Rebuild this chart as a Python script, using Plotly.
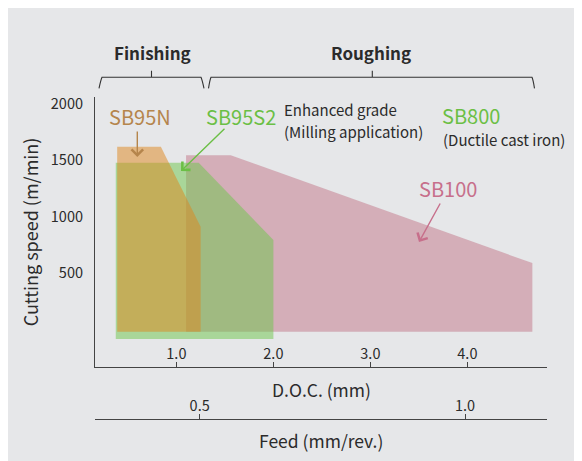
import plotly.graph_objects as go

# ---------------- data ----------------
grades = ["SB100", "SB95S2", "SB95N"]
sb100_doc = [1.10, 1.10, 1.56, 4.67, 4.67]
sb100_speed = [-25, 1545, 1545, 585, -25]
sb95s2_doc = [0.375, 0.375, 1.23, 2.0, 2.0]
sb95s2_speed = [-90, 1478, 1478, 790, -90]
sb95n_doc = [0.39, 0.39, 0.84, 1.25, 1.25]
sb95n_speed = [-25, 1620, 1620, 909, -25]

speed_ticks = [500, 1000, 1500, 2000]
doc_ticks = [1.0, 2.0, 3.0, 4.0]
doc_ticklabels = ["1.0", "2.0", "3.0", "4.0"]
feed_ticks = [0.5, 1.0]
feed_ticklabels = ["0.5", "1.0"]

# ---------------- layout geometry (page pixels) ----------------
OFF = 8                 # page body margin
WF, HF = 574, 453       # figure size
PL, PR, PT, PB = 95, 547, 97, 419  # plot box (paper) in page px
AXIS_Y = 367                        # DOC axis line


def fx(px):
    return (px - PL) / (PR - PL)


def fy(py):
    return (PB - py) / (PB - PT)


FONT = "Noto Sans CJK KR"
DARK = "#2b2b2b"
BROWN = "#b5854c"
GREEN = "#6bbf45"
PINK = "#c76f8b"

fig = go.Figure()
fig.add_trace(go.Scatter(x=sb100_doc, y=sb100_speed, fill="toself", mode="lines",
                         line=dict(width=0), fillcolor="rgba(194,117,135,0.5)",
                         name="SB100", hoverinfo="skip", showlegend=False))
fig.add_trace(go.Scatter(x=sb95s2_doc, y=sb95s2_speed, fill="toself", mode="lines",
                         line=dict(width=0), fillcolor="rgba(108,197,73,0.5)",
                         name="SB95S2", hoverinfo="skip", showlegend=False))
fig.add_trace(go.Scatter(x=sb95n_doc, y=sb95n_speed, fill="toself", mode="lines",
                         line=dict(width=0), fillcolor="rgba(222,133,27,0.5)",
                         name="SB95N", hoverinfo="skip", showlegend=False))
# invisible trace for the feed axis
fig.add_trace(go.Scatter(x=feed_ticks, y=[None, None], xaxis="x2", mode="lines",
                         showlegend=False, hoverinfo="skip"))

shapes = []


def bracket(x0, x1, xc, ytop=77.3, ybot=88.3, ytick=70.7, lflare=-2, rflare=2):
    p = (f"M {fx(x0 + lflare)},{fy(ybot)} Q {fx(x0)},{fy(ytop + 2)} {fx(x0 + 1)},{fy(ytop)} "
         f"L {fx(x1 - 1)},{fy(ytop)} Q {fx(x1)},{fy(ytop + 2)} {fx(x1 + rflare)},{fy(ybot)} "
         f"M {fx(xc)},{fy(ytop)} L {fx(xc)},{fy(ytick)}")
    return dict(type="path", xref="paper", yref="paper", path=p,
                line=dict(color="#333333", width=1.1))


shapes.append(bracket(101, 202, 151.5))
shapes.append(bracket(210, 533, 372.3, lflare=-1.5, rflare=1.5))

annotations = []


def txt(text, px, py, size, color=DARK, xanchor="center", weight=None):
    f = dict(family=FONT, size=size, color=color)
    if weight:
        f["weight"] = weight
    annotations.append(dict(text=text, x=fx(px), y=fy(py), xref="paper", yref="paper",
                            xanchor=xanchor, yanchor="middle", showarrow=False, font=f))


def arrow(x0, y0, x1, y1, color):
    annotations.append(dict(text="", x=fx(x1), y=fy(y1), xref="paper", yref="paper",
                            ax=x0 - x1, ay=y0 - y1, axref="pixel", ayref="pixel",
                            showarrow=True, arrowhead=4, arrowsize=1.6, arrowwidth=1.4,
                            arrowcolor=color))


txt("Finishing", 152, 52, 17, weight=600)
txt("Roughing", 371, 52, 17, weight=600)
txt("SB95N", 140, 116.5, 20, BROWN)
txt("SB95S2", 240.5, 116.5, 20, GREEN)
txt("Enhanced grade", 282, 109.5, 15, xanchor="left")
txt("(Milling application)", 282, 131, 15, xanchor="left")
txt("SB800", 470.5, 116, 20, GREEN)
txt("(Ductile cast iron)", 440.5, 139, 15, xanchor="left")
txt("SB100", 448, 188.5, 20, PINK)
txt("D.O.C. (mm)", 321, 389, 17.5)
txt("Feed (mm/rev.)", 321, 440, 17.5)

arrow(137.3, 130, 137.3, 157, BROWN)
arrow(226, 127.3, 181, 171, GREEN)
arrow(441, 202, 419, 242, PINK)

fig.update_layout(
    width=WF, height=HF,
    margin=dict(l=PL - OFF, r=OFF + WF - PR, t=PT - OFF, b=OFF + HF - PB, pad=0),
    paper_bgcolor="#e6e7e9", plot_bgcolor="rgba(0,0,0,0)",
    font=dict(family=FONT, color=DARK),
    showlegend=False,
    shapes=shapes, annotations=annotations,
    xaxis=dict(range=[0.161, 4.821], anchor="y", showgrid=False, zeroline=False,
               showline=True, linecolor="#444444", linewidth=1.2,
               ticks="inside", ticklen=5, tickcolor="#444444", tickwidth=1,
               tickvals=doc_ticks, ticktext=doc_ticklabels,
               ticklabelposition="inside", tickfont=dict(size=14.5, color=DARK)),
    xaxis2=dict(range=[0.3028, 1.1543], overlaying="x", anchor="free", position=0,
                side="bottom", showgrid=False, zeroline=False,
                showline=True, linecolor="#444444", linewidth=1.2,
                ticks="inside", ticklen=5, tickcolor="#444444", tickwidth=1,
                tickvals=feed_ticks, ticktext=feed_ticklabels,
                ticklabelposition="inside", tickfont=dict(size=14.5, color=DARK)),
    yaxis=dict(range=[-339, 2062], domain=[fy(AXIS_Y), 1], showgrid=False, zeroline=False,
               showline=True, linecolor="#444444", linewidth=1.2, ticks="",
               tickvals=speed_ticks, ticklabelstandoff=8,
               tickfont=dict(size=14.5, color=DARK),
               title=dict(text="Cutting speed (m/min)", font=dict(size=18, color=DARK),
                          standoff=7)),
)

fig.write_html("out.html")
